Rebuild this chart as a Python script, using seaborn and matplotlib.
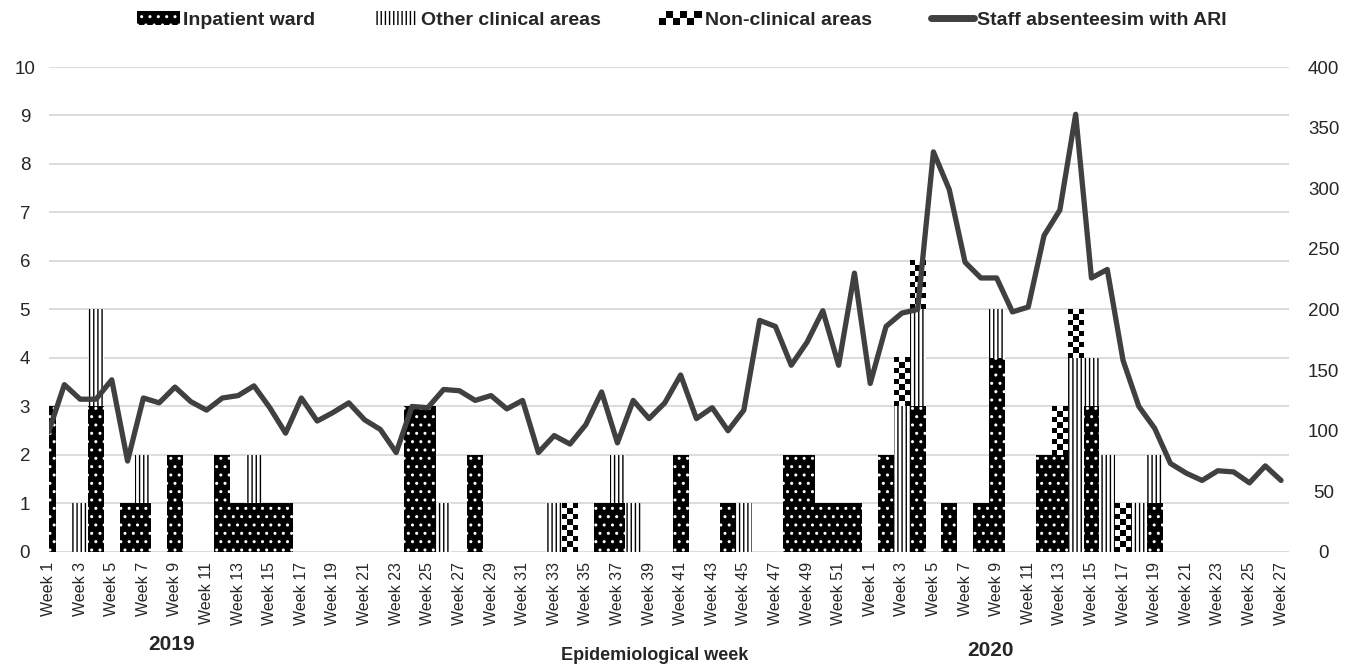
import matplotlib.pyplot as plt
import numpy as np
import pandas as pd
import seaborn as sns
from matplotlib.legend_handler import HandlerBase
from matplotlib.lines import Line2D
from matplotlib.patches import Patch, Rectangle

# 2019 weeks 1-52 followed by 2020 weeks 1-27
weeks_2019 = list(range(1, 53))
weeks_2020 = list(range(1, 28))

inpatient_ward = [
    3, 0, 0, 3, 0, 1, 1, 0, 2, 0, 0, 2, 1, 1, 1, 1, 0, 0, 0, 0,
    0, 0, 0, 3, 3, 0, 0, 2, 0, 0, 0, 0, 0, 0, 0, 1, 1, 0, 0, 0,
    2, 0, 0, 1, 0, 0, 0, 2, 2, 1, 1, 1,
    0, 2, 0, 3, 0, 1, 0, 1, 4, 0, 0, 2, 2, 0, 3, 0, 0, 0, 1, 0,
    0, 0, 0, 0, 0, 0, 0,
]
other_clinical = [
    0, 0, 1, 2, 0, 0, 1, 0, 0, 0, 0, 0, 0, 1, 0, 0, 0, 0, 0, 0,
    0, 0, 0, 0, 0, 1, 0, 0, 0, 0, 0, 0, 1, 0, 0, 0, 1, 1, 0, 0,
    0, 0, 0, 0, 1, 0, 0, 0, 0, 0, 0, 0,
    0, 0, 3, 2, 0, 0, 0, 0, 1, 0, 0, 0, 0, 4, 1, 2, 0, 1, 1, 0,
    0, 0, 0, 0, 0, 0, 0,
]
non_clinical = [
    0, 0, 0, 0, 0, 0, 0, 0, 0, 0, 0, 0, 0, 0, 0, 0, 0, 0, 0, 0,
    0, 0, 0, 0, 0, 0, 0, 0, 0, 0, 0, 0, 0, 1, 0, 0, 0, 0, 0, 0,
    0, 0, 0, 0, 0, 0, 0, 0, 0, 0, 0, 0,
    0, 0, 1, 1, 0, 0, 0, 0, 0, 0, 0, 0, 1, 1, 0, 0, 1, 0, 0, 0,
    0, 0, 0, 0, 0, 0, 0,
]
staff_absent_ari = [
    99, 138, 126, 126, 142, 75, 127, 123, 136, 124, 117, 127, 129, 137, 119, 98,
    127, 108, 115, 123, 109, 101, 82, 120, 119, 134, 133, 125, 129, 118, 125, 82,
    96, 89, 105, 132, 90, 125, 110, 123, 146, 110, 119, 100, 117, 191, 186, 154,
    173, 199, 154, 230,
    139, 186, 197, 200, 330, 299, 239, 226, 226, 198, 202, 261, 282, 361, 226, 233,
    158, 120, 102, 73, 65, 59, 67, 66, 57, 71, 59,
]

week_labels = [f"Week {w}" for w in weeks_2019 + weeks_2020]
df = pd.DataFrame({
    "pos": np.arange(len(week_labels)),
    "inpatient": inpatient_ward,
    "other": other_clinical,
    "nonclinical": non_clinical,
    "absent": staff_absent_ari,
})


class CheckerHandler(HandlerBase):
    def create_artists(self, legend, orig_handle, xdescent, ydescent,
                       width, height, fontsize, trans):
        ncol, nrow = 6, 2
        w, h = width / ncol, height / nrow
        arts = []
        for i in range(ncol):
            for j in range(nrow):
                fc = "black" if (i + j) % 2 == 0 else "white"
                arts.append(Rectangle((-xdescent + i * w, -ydescent + j * h), w, h,
                                      facecolor=fc, edgecolor="none", transform=trans))
        return arts


sns.set_theme(style="white")
plt.rcParams["font.family"] = ["Liberation Sans", "DejaVu Sans"]
plt.rcParams["hatch.linewidth"] = 1.0

fig = plt.figure(figsize=(13.49, 6.68), dpi=100)
ax = fig.add_axes([0.036, 0.1737, 0.9195, 0.7260])

bar_kws = dict(x="pos", errorbar=None, width=1.0, linewidth=0, ax=ax)
sns.barplot(data=df, y="inpatient", color="black", facecolor="black",
            edgecolor="white", hatch="..", **bar_kws)
sns.barplot(data=df, y="other", bottom=df["inpatient"], color="white",
            facecolor="white", edgecolor="black", hatch="||||", **bar_kws)
sns.barplot(data=df, y="nonclinical", bottom=df["inpatient"] + df["other"],
            color="white", facecolor="white", edgecolor="white", **bar_kws)

# checkerboard fill for the non-clinical bars
for patch in ax.containers[-1]:
    h = patch.get_height()
    if h <= 0:
        continue
    x0, y0, w = patch.get_x(), patch.get_y(), patch.get_width()
    rows, cols = int(round(h * 9)), 3
    board = (np.add.outer(np.arange(rows), np.arange(cols)) % 2).astype(float)
    ax.imshow(board, cmap="gray", vmin=0, vmax=1, extent=(x0, x0 + w, y0, y0 + h),
              aspect="auto", interpolation="nearest", zorder=patch.get_zorder() + 0.1)

ax.set_xlim(0, len(week_labels) - 0.5)
ax.set_ylim(0, 10)
ax.set_yticks(range(0, 11))
ax.yaxis.grid(True, color="#d9d9d9", linewidth=1.3)
ax.set_axisbelow(True)
ax.set_xticks(df["pos"][::2])
ax.set_xticklabels(week_labels[::2], rotation=90, fontsize=11.5, color="#262626")
ax.set_xlabel("")
ax.set_ylabel("")
ax.tick_params(axis="x", length=0, pad=7)
ax.tick_params(axis="y", length=0, pad=17, labelsize=13.5, labelcolor="#262626")
for lab in ax.get_yticklabels():
    lab.set_horizontalalignment("center")
for s in ax.spines.values():
    s.set_visible(False)

ax2 = ax.twinx()
sns.lineplot(data=df, x="pos", y="absent", color="#404040", linewidth=3.8, ax=ax2)
ax2.set_ylim(0, 400)
ax2.set_yticks(range(0, 401, 50))
ax2.set_ylabel("")
ax2.tick_params(axis="y", length=0, pad=25, labelsize=13.5, labelcolor="#262626")
for lab in ax2.get_yticklabels():
    lab.set_horizontalalignment("center")
for s in ax2.spines.values():
    s.set_visible(False)
ax2.grid(False)
ax.set_xlim(0, len(week_labels) - 0.5)

handles = [
    Patch(facecolor="black", edgecolor="white", hatch="..", linewidth=0),
    Patch(facecolor="white", edgecolor="black", hatch="||||", linewidth=0),
    Patch(facecolor="white", edgecolor="black"),
    Line2D([], [], color="#404040", linewidth=5),
]
labels = ["Inpatient ward", "Other clinical areas", "Non-clinical areas",
          "Staff absenteesim with ARI"]
fig.legend(handles, labels, loc="center", bbox_to_anchor=(0.5055, 1 - 20 / 668),
           ncol=4, frameon=False, handlelength=2.2, handletextpad=0.2,
           columnspacing=3.0, prop={"weight": "bold", "size": 14},
           handler_map={handles[2]: CheckerHandler()})

fig.text(172 / 1349, 1 - 645 / 668, "2019", ha="center", va="center",
         fontsize=15, fontweight="bold")
fig.text(655 / 1349, 1 - 656 / 668, "Epidemiological week", ha="center",
         va="center", fontsize=13, fontweight="bold")
fig.text(990 / 1349, 1 - 651 / 668, "2020", ha="center", va="center",
         fontsize=15, fontweight="bold")

fig.savefig("out.png", dpi=100)
